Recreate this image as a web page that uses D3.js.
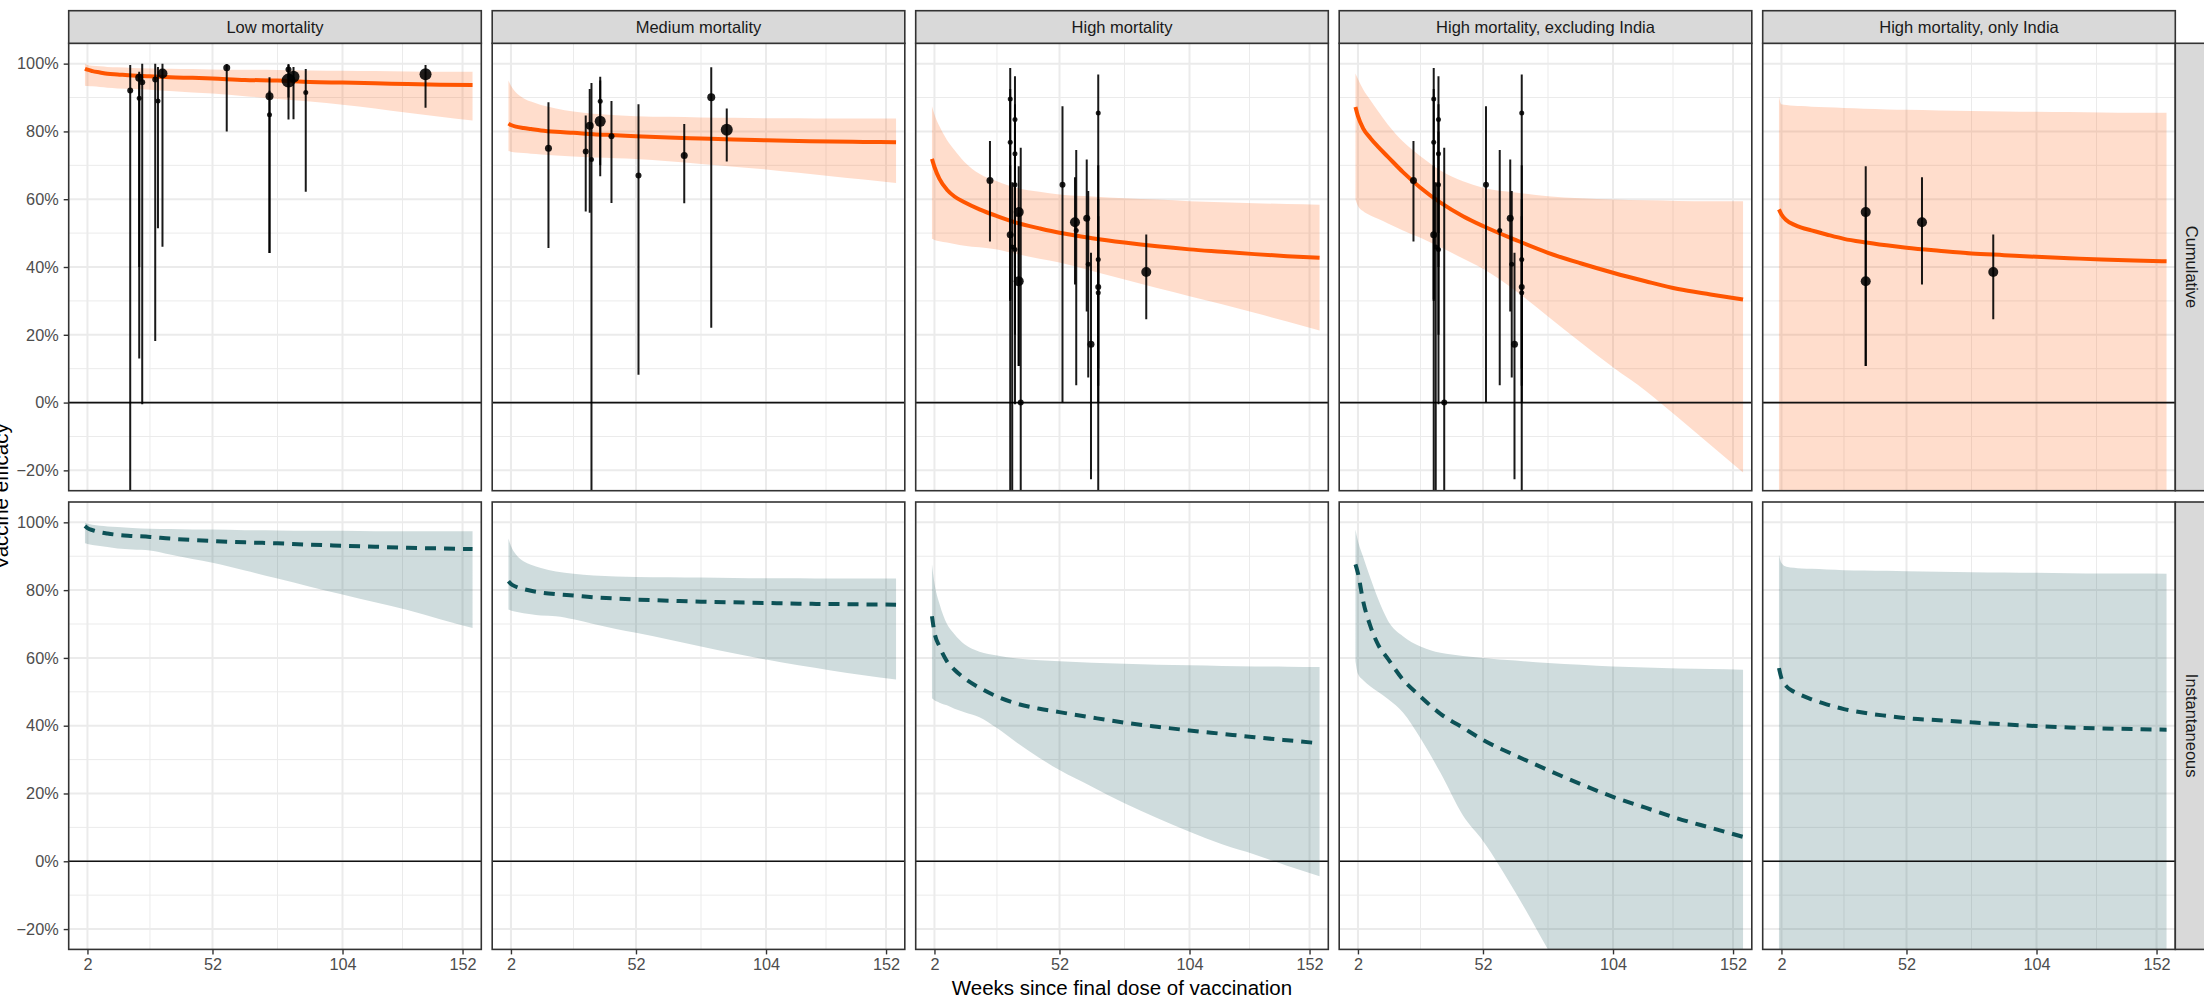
<!DOCTYPE html>
<html>
<head>
<meta charset="utf-8">
<script src="https://cdn.jsdelivr.net/npm/d3@7"></script>
<style>
body { margin: 0; background: #fff; }
text { font-family: "Liberation Sans", Arial, sans-serif; }
</style>
</head>
<body>
<div id="chart"></div>
<script>
// chart size
var width = 2204;
var height = 1002;

// model curves are evaluated at these weeks since the final dose
var weeks = [1, 2, 4, 7, 10, 14, 20, 27, 35, 44, 52, 65, 78, 91, 104, 117, 130, 143, 156];

var panelNames = ["Low mortality", "Medium mortality", "High mortality",
    "High mortality, excluding India", "High mortality, only India"];
var rowNames = ["Cumulative", "Instantaneous"];

// cumulative vaccine efficacy (%), one row per panel
var cumEst = [
    [98.5, 98.2, 97.8, 97.4, 97.0, 96.8, 96.5, 96.3, 96.0, 95.8, 95.6, 95.2, 95.0, 94.6, 94.4, 94.2, 94.0, 93.8, 93.7],
    [82.3, 81.9, 81.4, 81.0, 80.7, 80.3, 79.9, 79.6, 79.2, 78.9, 78.6, 78.2, 77.9, 77.6, 77.4, 77.2, 77.0, 76.9, 76.8],
    [71.9, 69.5, 66.0, 62.8, 60.8, 59.1, 57.0, 55.0, 53.0, 51.4, 50.1, 48.5, 47.2, 46.1, 45.2, 44.5, 43.8, 43.2, 42.7],
    [87.2, 84.5, 81.0, 78.0, 75.5, 72.5, 68.0, 63.4, 59.0, 55.0, 52.1, 48.0, 44.2, 41.1, 38.3, 35.8, 33.5, 31.9, 30.4],
    [57.0, 55.5, 53.8, 52.5, 51.6, 50.8, 49.6, 48.3, 47.3, 46.4, 45.7, 44.8, 44.0, 43.5, 43.0, 42.6, 42.2, 41.9, 41.7]
];
var cumLo = [
    [93.5, 93.4, 93.3, 93.1, 92.9, 92.7, 92.5, 92.3, 91.9, 91.5, 91.2, 90.4, 89.6, 88.8, 87.9, 86.8, 85.5, 84.3, 83.2],
    [74.2, 74.0, 73.8, 73.6, 73.4, 73.2, 72.9, 72.6, 72.3, 72.1, 71.9, 71.2, 70.4, 69.6, 68.8, 67.8, 66.8, 65.8, 64.8],
    [48.3, 48.0, 47.6, 47.2, 46.8, 46.3, 45.8, 45.2, 43.8, 42.4, 41.3, 38.8, 36.3, 33.8, 31.4, 29.0, 26.5, 23.9, 21.3],
    [59.9, 58.0, 56.5, 55.2, 54.2, 52.8, 50.8, 48.6, 45.8, 42.5, 39.5, 33.0, 25.4, 17.8, 10.4, 3.5, -4.4, -12.5, -20.6],
    [-40, -40, -40, -40, -40, -40, -40, -40, -40, -40, -40, -40, -40, -40, -40, -40, -40, -40, -40]
];
var cumHi = [
    [99.9, 99.6, 99.4, 99.2, 99.0, 98.9, 98.7, 98.6, 98.5, 98.4, 98.3, 98.2, 98.1, 98.0, 97.9, 97.8, 97.7, 97.6, 97.6],
    [95.0, 93.5, 91.5, 89.8, 88.8, 87.8, 86.8, 85.9, 85.2, 84.8, 84.5, 84.3, 84.1, 84.0, 83.9, 83.9, 83.8, 83.8, 83.8],
    [87.4, 85.0, 81.5, 77.5, 74.5, 71.0, 67.5, 65.3, 63.3, 62.2, 61.4, 60.8, 60.3, 59.9, 59.4, 59.1, 58.8, 58.6, 58.4],
    [97.1, 95.5, 92.5, 89.2, 86.0, 82.0, 77.0, 72.7, 68.5, 65.3, 63.4, 62.0, 60.9, 60.3, 59.9, 59.7, 59.5, 59.4, 59.4],
    [90.4, 88.0, 87.8, 87.6, 87.5, 87.3, 87.1, 86.9, 86.7, 86.5, 86.4, 86.2, 86.0, 85.9, 85.8, 85.7, 85.6, 85.5, 85.5]
];

// instantaneous vaccine efficacy (%)
var instEst = [
    [98.9, 98.3, 97.7, 97.1, 96.7, 96.3, 96.0, 95.7, 95.2, 94.8, 94.5, 94.1, 93.8, 93.4, 93.1, 92.8, 92.5, 92.3, 92.1],
    [82.6, 81.8, 81.0, 80.3, 79.8, 79.3, 78.8, 78.4, 77.9, 77.5, 77.2, 76.9, 76.6, 76.4, 76.2, 76.0, 75.9, 75.8, 75.7],
    [72.3, 67.5, 63.4, 59.0, 56.5, 54.0, 51.2, 48.6, 46.5, 45.0, 44.0, 42.4, 40.9, 39.7, 38.6, 37.6, 36.6, 35.7, 34.8],
    [87.6, 85.0, 77.0, 69.3, 64.0, 59.7, 53.6, 48.6, 43.5, 39.4, 35.8, 31.2, 26.9, 22.8, 19.0, 15.8, 12.6, 9.9, 7.2],
    [57.0, 54.0, 51.6, 50.0, 49.0, 47.8, 46.3, 44.9, 43.8, 42.9, 42.2, 41.6, 41.0, 40.4, 39.9, 39.5, 39.2, 39.0, 38.8]
];
var instLo = [
    [93.8, 93.6, 93.3, 93.0, 92.7, 92.3, 92.0, 91.7, 90.5, 89.2, 88.1, 85.8, 83.4, 81.0, 78.7, 76.4, 74.1, 71.4, 68.8],
    [74.3, 74.0, 73.6, 73.2, 72.9, 72.5, 72.3, 71.4, 70.0, 68.5, 67.4, 65.4, 63.4, 61.4, 59.5, 57.8, 56.3, 54.9, 53.6],
    [48.1, 47.5, 46.8, 46.0, 45.0, 44.0, 42.5, 39.3, 35.0, 30.5, 26.9, 22.0, 17.1, 12.8, 8.7, 5.0, 2.0, -1.3, -4.4],
    [59.0, 55.3, 53.5, 51.6, 50.0, 47.9, 43.9, 36.3, 26.1, 13.5, 6.0, -9.2, -26, -42, -57, -72, -86, -100, -114],
    [-40, -40, -40, -40, -40, -40, -40, -40, -40, -40, -40, -40, -40, -40, -40, -40, -40, -40, -40]
];
var instHi = [
    [99.9, 99.6, 99.3, 99.0, 98.8, 98.6, 98.3, 98.1, 98.0, 97.9, 97.9, 97.7, 97.6, 97.5, 97.5, 97.4, 97.4, 97.4, 97.4],
    [95.2, 93.0, 90.5, 88.5, 87.5, 86.5, 85.5, 84.8, 84.3, 84.0, 83.9, 83.8, 83.7, 83.6, 83.5, 83.5, 83.4, 83.4, 83.4],
    [87.6, 82.0, 76.0, 70.0, 67.0, 64.0, 61.8, 60.7, 59.8, 59.3, 59.0, 58.6, 58.3, 58.0, 57.8, 57.6, 57.5, 57.4, 57.3],
    [97.9, 94.5, 90.0, 83.5, 77.5, 71.0, 66.4, 63.4, 61.5, 60.6, 60.0, 59.2, 58.5, 58.0, 57.5, 57.2, 56.9, 56.7, 56.5],
    [90.5, 88.0, 86.9, 86.6, 86.4, 86.3, 86.1, 85.9, 85.8, 85.7, 85.6, 85.4, 85.3, 85.2, 85.1, 85.0, 84.9, 84.9, 84.8]
];

// study estimates: [week, VE, lower, upper, weight]
var lowPoints = [
    [19.1, 92.1, -30, 99.6, 2], [22.7, 95.8, 13.0, 97.6, 4], [22.7, 89.8, 40, 97, 1],
    [23.9, 94.5, -0.5, 100, 2], [29.1, 95.3, 18.2, 100, 2], [30.2, 89.0, 51.4, 99.0, 1],
    [32.0, 97.1, 46.0, 100, 6], [57.7, 98.8, 80.0, 99.9, 3], [74.8, 90.4, 44.1, 96.0, 4],
    [74.8, 84.9, 44.1, 92, 1], [82.4, 95.0, 83.5, 99.6, 10], [82.4, 98.3, 90, 99.9, 2],
    [84.4, 96.1, 83.6, 99.0, 8], [89.3, 91.5, 62.2, 98.4, 1], [137.2, 96.9, 87.0, 99.6, 8]
];
var mediumPoints = [
    [17.0, 75.0, 45.6, 88.6, 3], [31.9, 74.1, 56.4, 84.7, 2], [33.5, 81.7, 56.0, 92.5, 4],
    [34.2, 71.7, -30, 94.3, 1], [37.7, 83.0, 66.8, 96.1, 7], [37.7, 88.9, 70, 95, 1],
    [42.2, 78.6, 58.9, 89.0, 2], [53.0, 67.0, 8.2, 88.0, 2], [71.3, 72.9, 58.8, 82.2, 3],
    [82.1, 90.1, 22.1, 98.9, 4], [88.3, 80.5, 71.1, 86.8, 8]
];
var exclIndiaPoints = [
    [24.2, 65.5, 47.5, 77.2, 3], [32.3, 89.6, -30, 98.7, 1], [32.3, 76.8, 30.4, 92.5, 1],
    [32.3, 49.5, 30, 70, 3], [33.1, 45.9, -30, 65, 1], [34.2, 83.5, -0.5, 96.3, 1],
    [34.2, 73.4, 50, 88, 1], [34.2, 64.3, 40, 80, 1], [34.2, 45.2, 20, 65, 1],
    [36.5, 0.0, -30, 75.2, 2], [53.2, 64.3, 0.0, 87.4, 2], [58.7, 50.8, 5.1, 74.5, 1],
    [62.9, 54.4, 26.9, 71.7, 3], [63.5, 40.8, 7.4, 62.4, 1], [64.6, 17.2, -22.6, 44.2, 3],
    [67.5, 85.4, -30, 96.8, 1], [67.5, 42.2, 10, 70, 1], [67.5, 34.1, 5, 60, 2],
    [67.5, 32.4, 0, 55, 1]
];
var indiaPoints = [
    [35.7, 56.2, 10.8, 69.7, 6], [35.7, 35.8, 10.8, 56.0, 6],
    [58.2, 53.2, 34.8, 66.5, 6], [86.7, 38.5, 24.6, 49.6, 6]
];
var highPoints = exclIndiaPoints.concat(indiaPoints);
var panelPoints = [lowPoints, mediumPoints, highPoints, exclIndiaPoints, indiaPoints];

// tick labels
var xTicks = [2, 52, 104, 152];
var xMinor = [27, 78, 128];
var yTicks = [-20, 0, 20, 40, 60, 80, 100];
var yMinor = [-10, 10, 30, 50, 70, 90];

// layout
var plotLeft = 68.7;
var panelW = 412.6;
var colGap = 10.9;
var stripTop = 10.7;
var stripH = 32.6;
var rowTops = [43.3, 502];
var panelH = 447.4;

var orange = "#ff5500";
var teal = "#0d5257";

var svg = d3.select("#chart")
    .append("svg")
    .attr("width", width)
    .attr("height", height);

var rScale = d3.scaleLinear().domain([1, 10]).range([2.5, 7]);

function panelLeft(c) {
    return plotLeft + c * (panelW + colGap);
}

rowNames.forEach(function(rowName, r) {
    var top = rowTops[r];
    var yScale = d3.scaleLinear()
        .domain([-26, 106])
        .range([top + panelH, top]);

    var est = r === 0 ? cumEst : instEst;
    var lo = r === 0 ? cumLo : instLo;
    var hi = r === 0 ? cumHi : instHi;
    var col = r === 0 ? orange : teal;

    panelNames.forEach(function(name, c) {
        var left = panelLeft(c);
        var xScale = d3.scaleLinear()
            .domain([-5.5, 159.5])
            .range([left, left + panelW]);

        var clipId = "clip-" + r + "-" + c;
        svg.append("clipPath").attr("id", clipId)
            .append("rect")
            .attr("x", left).attr("y", top)
            .attr("width", panelW).attr("height", panelH);

        var g = svg.append("g").attr("clip-path", "url(#" + clipId + ")");

        // grid lines
        g.selectAll(".xminor").data(xMinor).enter().append("line")
            .attr("x1", function(d) { return xScale(d); })
            .attr("x2", function(d) { return xScale(d); })
            .attr("y1", top).attr("y2", top + panelH)
            .attr("stroke", "#ebebeb").attr("stroke-width", 1);
        g.selectAll(".yminor").data(yMinor).enter().append("line")
            .attr("x1", left).attr("x2", left + panelW)
            .attr("y1", function(d) { return yScale(d); })
            .attr("y2", function(d) { return yScale(d); })
            .attr("stroke", "#ebebeb").attr("stroke-width", 1);
        g.selectAll(".xmajor").data(xTicks).enter().append("line")
            .attr("x1", function(d) { return xScale(d); })
            .attr("x2", function(d) { return xScale(d); })
            .attr("y1", top).attr("y2", top + panelH)
            .attr("stroke", "#ebebeb").attr("stroke-width", 2);
        g.selectAll(".ymajor").data(yTicks).enter().append("line")
            .attr("x1", left).attr("x2", left + panelW)
            .attr("y1", function(d) { return yScale(d); })
            .attr("y2", function(d) { return yScale(d); })
            .attr("stroke", "#ebebeb").attr("stroke-width", 2);

        // model ribbon and line
        var curve = weeks.map(function(w, i) {
            return {w: w, est: est[c][i], lo: lo[c][i], hi: hi[c][i]};
        });

        var area = d3.area()
            .curve(d3.curveMonotoneX)
            .x(function(d) { return xScale(d.w); })
            .y0(function(d) { return yScale(d.lo); })
            .y1(function(d) { return yScale(d.hi); });

        g.append("path").datum(curve)
            .attr("d", area)
            .attr("fill", col)
            .attr("fill-opacity", 0.2);

        // reference line at 0%
        g.append("line")
            .attr("x1", left).attr("x2", left + panelW)
            .attr("y1", yScale(0)).attr("y2", yScale(0))
            .attr("stroke", "#111").attr("stroke-width", 1.6);

        var line = d3.line()
            .curve(d3.curveMonotoneX)
            .x(function(d) { return xScale(d.w); })
            .y(function(d) { return yScale(d.est); });

        var path = g.append("path").datum(curve)
            .attr("d", line)
            .attr("fill", "none")
            .attr("stroke", col)
            .attr("stroke-width", 4);
        if (r === 1) {
            path.attr("stroke-dasharray", "11,8");
        }

        // study estimates on the cumulative row
        if (r === 0) {
            var pts = panelPoints[c];
            g.selectAll(".bar").data(pts).enter().append("line")
                .attr("x1", function(d) { return xScale(d[0]); })
                .attr("x2", function(d) { return xScale(d[0]); })
                .attr("y1", function(d) { return yScale(d[2]); })
                .attr("y2", function(d) { return yScale(d[3]); })
                .attr("stroke", "#000")
                .attr("stroke-opacity", 0.9)
                .attr("stroke-width", 2);
            g.selectAll(".pt").data(pts).enter().append("circle")
                .attr("cx", function(d) { return xScale(d[0]); })
                .attr("cy", function(d) { return yScale(d[1]); })
                .attr("r", function(d) { return rScale(d[4]); })
                .attr("fill", "#000")
                .attr("fill-opacity", 0.88);
        }

        // panel border
        svg.append("rect")
            .attr("x", left).attr("y", top)
            .attr("width", panelW).attr("height", panelH)
            .attr("fill", "none")
            .attr("stroke", "#333").attr("stroke-width", 1.6);

        // facet strip on top
        if (r === 0) {
            svg.append("rect")
                .attr("x", left).attr("y", stripTop)
                .attr("width", panelW).attr("height", stripH)
                .attr("fill", "#d9d9d9")
                .attr("stroke", "#333").attr("stroke-width", 1.6);
            svg.append("text")
                .attr("x", left + panelW / 2)
                .attr("y", stripTop + stripH / 2)
                .attr("text-anchor", "middle")
                .attr("dominant-baseline", "central")
                .attr("font-size", "16.5px")
                .attr("fill", "#1a1a1a")
                .text(name);
        }

        // y axis on first column
        if (c === 0) {
            var yAxis = d3.axisLeft(yScale)
                .tickValues(yTicks)
                .tickSize(5)
                .tickPadding(5)
                .tickFormat(function(d) { return d3.format("d")(d) + "%"; });
            var ya = svg.append("g")
                .attr("transform", "translate(" + left + ",0)")
                .call(yAxis);
            ya.select(".domain").remove();
            ya.selectAll("line").attr("stroke", "#333").attr("stroke-width", 1.4);
            ya.selectAll("text").attr("font-size", "16.3px").attr("fill", "#4d4d4d")
                .style("font-family", "Liberation Sans, Arial, sans-serif");
        }

        // x axis on bottom row
        if (r === 1) {
            var xAxis = d3.axisBottom(xScale)
                .tickValues(xTicks)
                .tickSize(5)
                .tickPadding(4)
                .tickFormat(d3.format("d"));
            var xa = svg.append("g")
                .attr("transform", "translate(0," + (top + panelH) + ")")
                .call(xAxis);
            xa.select(".domain").remove();
            xa.selectAll("line").attr("stroke", "#333").attr("stroke-width", 1.4);
            xa.selectAll("text").attr("font-size", "16.3px").attr("fill", "#4d4d4d")
                .style("font-family", "Liberation Sans, Arial, sans-serif");
        }
    });

    // row strip on the right
    var stripLeft = panelLeft(panelNames.length - 1) + panelW;
    svg.append("rect")
        .attr("x", stripLeft).attr("y", top)
        .attr("width", stripH).attr("height", panelH)
        .attr("fill", "#d9d9d9")
        .attr("stroke", "#333").attr("stroke-width", 1.6);
    svg.append("text")
        .attr("transform", "translate(" + (stripLeft + stripH / 2) + "," + (top + panelH / 2) + ") rotate(90)")
        .attr("text-anchor", "middle")
        .attr("dominant-baseline", "central")
        .attr("font-size", "16.5px")
        .attr("fill", "#1a1a1a")
        .text(rowName);
});

// axis titles
var plotRight = panelLeft(panelNames.length - 1) + panelW;
svg.append("text")
    .attr("x", (plotLeft + plotRight) / 2)
    .attr("y", 995)
    .attr("text-anchor", "middle")
    .attr("font-size", "20.5px")
    .attr("fill", "#000")
    .text("Weeks since final dose of vaccination");

svg.append("text")
    .attr("transform", "translate(8," + (rowTops[0] + (rowTops[1] + panelH - rowTops[0]) / 2) + ") rotate(-90)")
    .attr("text-anchor", "middle")
    .attr("font-size", "20.5px")
    .attr("fill", "#000")
    .text("Vaccine efficacy");
</script>
</body>
</html>
